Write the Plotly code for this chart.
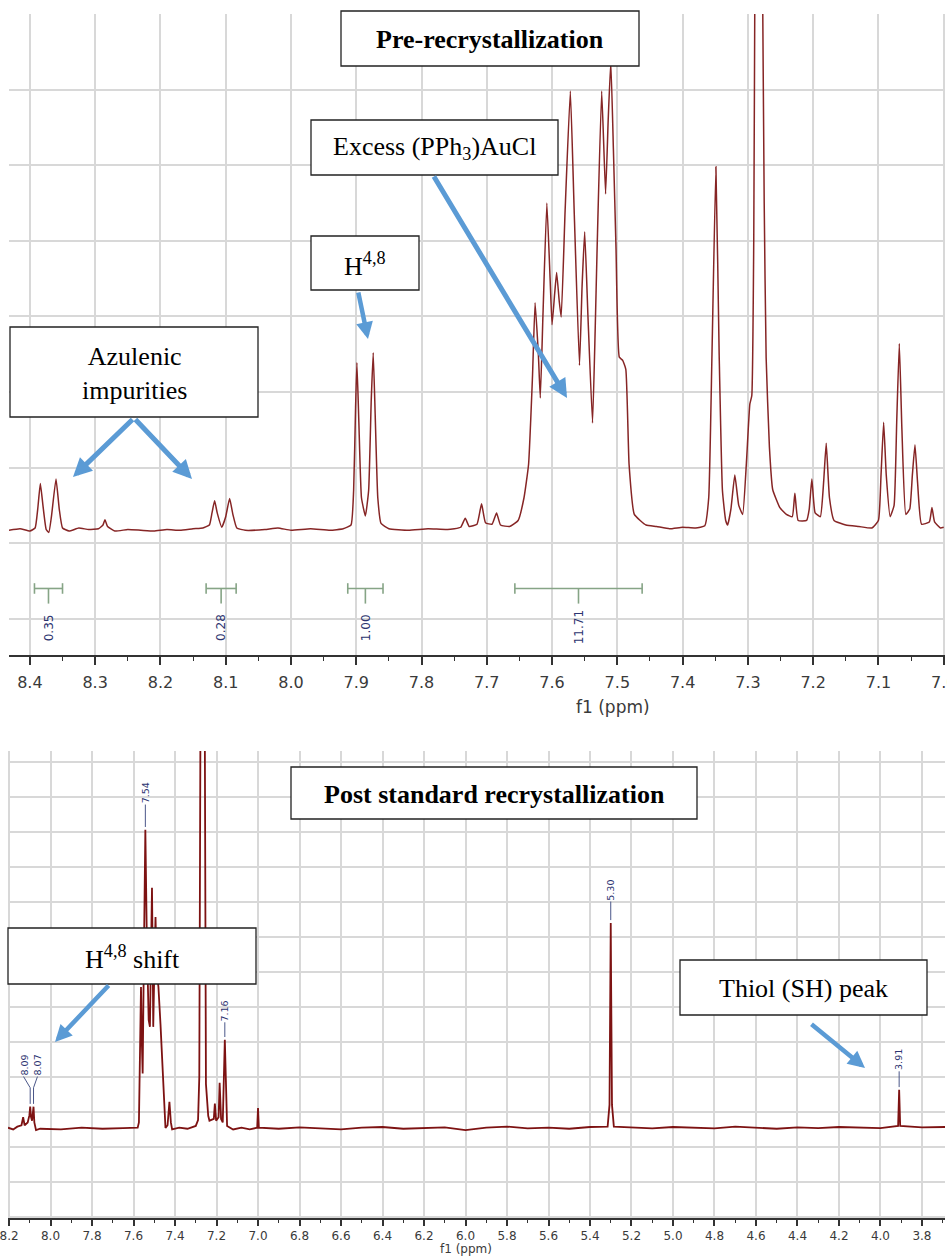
import plotly.graph_objects as go

W, H = 947, 1257

# ---------------- data: pre-recrystallization spectrum (ppm, intensity) ----------------
top_ppm = [8.432, 8.415, 8.400, 8.392, 8.388, 8.384, 8.380, 8.375, 8.371, 8.367, 8.360, 8.355,
           8.350, 8.340, 8.325, 8.310, 8.295, 8.288, 8.285, 8.281, 8.270, 8.250, 8.230, 8.210,
           8.190, 8.170, 8.150, 8.135, 8.125, 8.121, 8.117, 8.113, 8.106, 8.100, 8.094, 8.089,
           8.083, 8.070, 8.040, 8.020, 8.000, 7.970, 7.940, 7.920, 7.908, 7.904, 7.901, 7.899,
           7.896, 7.892, 7.886, 7.881, 7.877, 7.874, 7.871, 7.867, 7.862, 7.850, 7.820, 7.790,
           7.760, 7.740, 7.733, 7.727, 7.715, 7.708, 7.702, 7.692, 7.685, 7.679, 7.665, 7.652,
           7.643, 7.636, 7.630, 7.626, 7.621, 7.618, 7.614, 7.608, 7.603, 7.600, 7.596, 7.593,
           7.589, 7.586, 7.580, 7.572, 7.566, 7.558, 7.554, 7.550, 7.545, 7.538, 7.534, 7.531,
           7.524, 7.518, 7.514, 7.510, 7.506, 7.502, 7.497, 7.492, 7.487, 7.482, 7.474, 7.465,
           7.456, 7.440, 7.420, 7.400, 7.380, 7.366, 7.360, 7.355, 7.349, 7.344, 7.339, 7.334,
           7.331, 7.326, 7.320, 7.314, 7.308, 7.302, 7.297, 7.294, 7.291, 7.289, 7.2835, 7.278,
           7.275, 7.272, 7.267, 7.262, 7.251, 7.241, 7.232, 7.228, 7.223, 7.210, 7.206, 7.202,
           7.197, 7.189, 7.184, 7.180, 7.175, 7.168, 7.150, 7.130, 7.110, 7.100, 7.096, 7.092,
           7.088, 7.082, 7.076, 7.072, 7.068, 7.064, 7.058, 7.052, 7.048, 7.044, 7.040, 7.034,
           7.022, 7.018, 7.014, 7.005, 7.000]
top_int = [0.17, 0.19, 0.16, 0.20, 0.45, 0.79, 0.50, 0.18, 0.14, 0.35, 0.85, 0.45,
           0.20, 0.16, 0.20, 0.18, 0.19, 0.24, 0.31, 0.22, 0.16, 0.18, 0.17, 0.16,
           0.18, 0.17, 0.19, 0.20, 0.24, 0.40, 0.56, 0.40, 0.21, 0.35, 0.59, 0.38,
           0.20, 0.17, 0.18, 0.20, 0.17, 0.19, 0.17, 0.19, 0.24, 0.70, 1.80, 2.39,
           1.60, 0.60, 0.36, 0.70, 1.90, 2.52, 1.70, 0.60, 0.26, 0.19, 0.17, 0.19,
           0.18, 0.21, 0.33, 0.22, 0.25, 0.52, 0.27, 0.25, 0.40, 0.24, 0.22, 0.30,
           0.60, 1.04, 2.20, 3.18, 2.50, 1.92, 3.00, 4.50, 3.50, 2.89, 3.30, 3.58,
           3.20, 2.99, 4.40, 5.98, 4.36, 2.35, 3.40, 4.12, 3.00, 1.59, 2.80, 3.89,
           5.98, 4.62, 5.60, 6.37, 5.20, 3.89, 2.46, 2.42, 2.30, 1.04, 0.38, 0.30,
           0.24, 0.22, 0.19, 0.21, 0.20, 0.23, 0.60, 2.50, 4.98, 2.50, 0.70, 0.30,
           0.24, 0.45, 0.90, 0.50, 0.38, 1.10, 1.84, 1.95, 4.00, 8.00, 14.0, 8.00,
           4.50, 2.45, 1.27, 0.71, 0.47, 0.38, 0.35, 0.66, 0.30, 0.30, 0.45, 0.85,
           0.40, 0.35, 0.80, 1.32, 0.60, 0.30, 0.24, 0.22, 0.20, 0.30, 0.90, 1.60,
           0.90, 0.35, 0.50, 1.60, 2.64, 1.50, 0.38, 0.45, 0.90, 1.30, 0.80, 0.25,
           0.28, 0.47, 0.28, 0.20, 0.21]

# integrals of the top spectrum
integ_start = [8.393, 8.130, 7.913, 7.657]
integ_end = [8.350, 8.084, 7.859, 7.462]
integ_value = ["0.35", "0.28", "1.00", "11.71"]

# ---------------- data: post standard recrystallization spectrum ----------------
bot_ppm = [8.205, 8.180, 8.160, 8.140, 8.132, 8.125, 8.110, 8.102, 8.098, 8.094, 8.089, 8.086,
           8.082, 8.078, 8.070, 8.050, 7.950, 7.850, 7.750, 7.650, 7.580, 7.574, 7.568, 7.564,
           7.560, 7.556, 7.550, 7.543, 7.536, 7.527, 7.521, 7.516, 7.511, 7.507, 7.505, 7.500,
           7.494, 7.488, 7.480, 7.470, 7.462, 7.454, 7.446, 7.436, 7.427, 7.420, 7.414, 7.380,
           7.340, 7.300, 7.289, 7.283, 7.2775, 7.267, 7.2565, 7.251, 7.240, 7.234, 7.213, 7.208,
           7.202, 7.190, 7.185, 7.178, 7.170, 7.160, 7.149, 7.120, 7.080, 7.040, 7.004, 7.000,
           6.996, 6.900, 6.800, 6.700, 6.600, 6.500, 6.400, 6.300, 6.200, 6.100, 6.000, 5.900,
           5.800, 5.700, 5.600, 5.500, 5.400, 5.315, 5.306, 5.302, 5.300, 5.298, 5.294, 5.285,
           5.200, 5.100, 5.000, 4.900, 4.800, 4.700, 4.600, 4.500, 4.400, 4.300, 4.200, 4.100,
           4.000, 3.915, 3.910, 3.905, 3.800, 3.689]
bot_int = [0.55, 0.50, 0.58, 0.62, 0.85, 0.62, 0.70, 0.90, 1.15, 0.85, 0.75, 0.95,
           1.15, 0.70, 0.48, 0.52, 0.50, 0.55, 0.52, 0.54, 0.55, 0.70, 2.50, 4.57,
           3.00, 2.10, 5.50, 9.06, 6.00, 3.63, 3.43, 5.50, 7.40, 5.00, 3.43, 5.00,
           6.57, 5.00, 4.57, 3.50, 2.49, 1.27, 0.54, 0.62, 1.29, 0.70, 0.50, 0.55,
           0.52, 0.60, 0.77, 2.00, 12.0, 14.0, 12.0, 1.80, 0.89, 0.75, 0.80, 1.24,
           0.75, 0.85, 1.83, 0.80, 0.70, 3.06, 0.60, 0.50, 0.55, 0.50, 0.55, 1.11,
           0.55, 0.52, 0.56, 0.53, 0.50, 0.55, 0.57, 0.52, 0.55, 0.56, 0.48, 0.55,
           0.58, 0.53, 0.55, 0.52, 0.57, 0.58, 1.20, 4.50, 6.40, 4.50, 1.20, 0.58,
           0.55, 0.53, 0.57, 0.55, 0.53, 0.58, 0.55, 0.52, 0.56, 0.54, 0.57, 0.55,
           0.54, 0.60, 1.63, 0.60, 0.56, 0.57]

# peak picking labels of the bottom spectrum
peak_label_text = ["8.09", "8.07", "7.54", "7.16", "5.30", "3.91"]
peak_ppm = [8.098, 8.082, 7.543, 7.160, 5.300, 3.910]
peak_top = [1.15, 1.15, 9.06, 3.06, 6.40, 1.63]
label_ppm = [8.130, 8.063, 7.543, 7.160, 5.300, 3.910]
label_y = [2.34, 2.34, 10.11, 3.89, 7.34, 2.49]

# ---------------- figure ----------------
LINE_RED = "#862525"
GRID = "#d8d8d8"
AXC = "#333333"
LABEL_BLUE = "#2c3470"
ARROW = "#5b9bd5"
SERIF = "Liberation Serif"
SANS = "DejaVu Sans"

fig = go.Figure()

fig.add_trace(go.Scatter(x=top_ppm, y=top_int, mode="lines", xaxis="x", yaxis="y",
                         line=dict(color=LINE_RED, width=1.5, shape="spline", smoothing=0.4),
                         hoverinfo="skip"))

# integral bars
IY, CAP, TICK = -0.60, 0.07, -0.80
ix, iy = [], []
for s, e in zip(integ_start, integ_end):
    c = (s + e) / 2
    ix += [s, e, None, s, s, None, e, e, None, c, c, None]
    iy += [IY, IY, None, IY - CAP, IY + CAP, None, IY - CAP, IY + CAP, None, IY, TICK, None]
fig.add_trace(go.Scatter(x=ix, y=iy, mode="lines", xaxis="x", yaxis="y",
                         line=dict(color="#86a486", width=1.6), hoverinfo="skip"))

fig.add_trace(go.Scatter(x=bot_ppm, y=bot_int, mode="lines", xaxis="x2", yaxis="y2",
                         line=dict(color="#7d1212", width=1.8), hoverinfo="skip"))

# peak label leaders
lx, ly = [], []
for p, t, q, yl in zip(peak_ppm, peak_top, label_ppm, label_y):
    lx += [p, p, q, None]
    ly += [t + 0.08, yl - 0.65, yl - 0.33, None]
fig.add_trace(go.Scatter(x=lx, y=ly, mode="lines", xaxis="x2", yaxis="y2",
                         line=dict(color="#4a5688", width=1), hoverinfo="skip"))

annotations = []
for s, e, v in zip(integ_start, integ_end, integ_value):
    annotations.append(dict(x=(s + e) / 2, y=-1.12, xref="x", yref="y", text=v,
                            textangle=-90, showarrow=False,
                            font=dict(family=SANS, size=12, color=LABEL_BLUE)))
for q, yl, tx in zip(label_ppm, label_y, peak_label_text):
    annotations.append(dict(x=q, y=yl, xref="x2", yref="y2", text=tx, textangle=-90,
                            showarrow=False, font=dict(family=SANS, size=9.5, color=LABEL_BLUE)))


def px(x, y):
    return x / W, 1 - y / H


shapes = []
boxes = [
    ((341, 11, 639, 66), "<b>Pre-recrystallization</b>"),
    ((311, 120, 558, 175), "Excess (PPh<sub>3</sub>)AuCl"),
    ((311, 236, 419, 290), "H<sup>4,8</sup>"),
    ((10, 327, 258, 417), "Azulenic<br>impurities"),
    ((291, 767, 697, 819), "<b>Post standard recrystallization</b>"),
    ((8, 928, 256, 984), "H<sup>4,8</sup> shift"),
    ((680, 960, 927, 1015), "Thiol (SH) peak"),
]
for (x0, y0, x1, y1), txt in boxes:
    a0 = px(x0, y0)
    a1 = px(x1, y1)
    shapes.append(dict(type="rect", xref="paper", yref="paper", x0=a0[0], y0=a1[1],
                       x1=a1[0], y1=a0[1], fillcolor="white",
                       line=dict(color="#222222", width=1.3), layer="above"))
    cx, cy = px((x0 + x1) / 2, (y0 + y1) / 2 + 1)
    annotations.append(dict(x=cx, y=cy, xref="paper", yref="paper", text=txt,
                            showarrow=False, xanchor="center", yanchor="middle",
                            font=dict(family=SERIF, size=26, color="black")))

arrows = [
    ((134, 418), (73, 477), 5),
    ((134, 418), (192, 479), 5),
    ((358, 291), (368, 339), 4.5),
    ((433, 175), (567, 398), 5),
    ((110, 984), (55, 1042), 4.5),
    ((810, 1023), (865, 1068), 4.5),
]
for (tx_, ty_), (hx, hy), wd in arrows:
    hxp, hyp = px(hx, hy)
    annotations.append(dict(x=hxp, y=hyp, xref="paper", yref="paper", text="",
                            showarrow=True, ax=tx_ - hx, ay=ty_ - hy,
                            axref="pixel", ayref="pixel", arrowhead=2, arrowsize=0.75,
                            arrowwidth=wd, arrowcolor=ARROW, standoff=0, startstandoff=0))

tx1, ty1 = px(613, 707)
annotations.append(dict(x=tx1, y=ty1, xref="paper", yref="paper", text="f1 (ppm)",
                        showarrow=False, font=dict(family=SANS, size=17, color="#3a3a3a")))
tx2, ty2 = px(466, 1257)
annotations.append(dict(x=tx2, y=ty2, xref="paper", yref="paper", text="f1 (ppm)",
                        showarrow=False, yanchor="bottom", yshift=-1,
                        font=dict(family=SANS, size=12, color="#3a3a3a")))

common_x = dict(ticks="outside", tickcolor=AXC, tickwidth=1.5, showline=True,
                linecolor=AXC, showgrid=True, gridcolor=GRID, gridwidth=1.5,
                zeroline=False, tickformat=".1f", tick0=0, automargin=False,
                ticklabeloverflow="allow")
common_y = dict(showticklabels=False, ticks="", showgrid=True, gridcolor=GRID,
                gridwidth=1.5, zeroline=False, showline=False, dtick=1, tick0=0,
                automargin=False)

fig.update_layout(
    width=W, height=H, margin=dict(l=0, r=0, t=0, b=0),
    paper_bgcolor="white", plot_bgcolor="white", showlegend=False,
    xaxis=dict(domain=[9 / W, 945 / W], anchor="y", range=[8.432, 6.998], dtick=0.1,
               ticklen=8, linewidth=2, ticklabelstandoff=4,
               tickfont=dict(family=SANS, size=16, color="#3a3a3a"),
               minor=dict(dtick=0.05, ticks="outside", ticklen=4, tickcolor=AXC,
                          tickwidth=1.2, showgrid=False),
               **common_x),
    yaxis=dict(domain=[1 - 655 / H, 1 - 14 / H], anchor="x", range=[-1.48, 7.0], **common_y),
    xaxis2=dict(domain=[8 / W, 945 / W], anchor="y2", range=[8.205, 3.689], dtick=0.2,
                ticklen=6, linewidth=1.5,
                tickfont=dict(family=SANS, size=12, color="#3a3a3a"),
                minor=dict(dtick=0.1, ticks="outside", ticklen=3, tickcolor=AXC,
                           tickwidth=1, showgrid=False),
                **common_x),
    yaxis2=dict(domain=[1 - 1218 / H, 1 - 751 / H], anchor="x2", range=[-2.03, 11.31],
                **common_y),
    shapes=shapes,
    annotations=annotations,
)

fig.write_html("out.html")
